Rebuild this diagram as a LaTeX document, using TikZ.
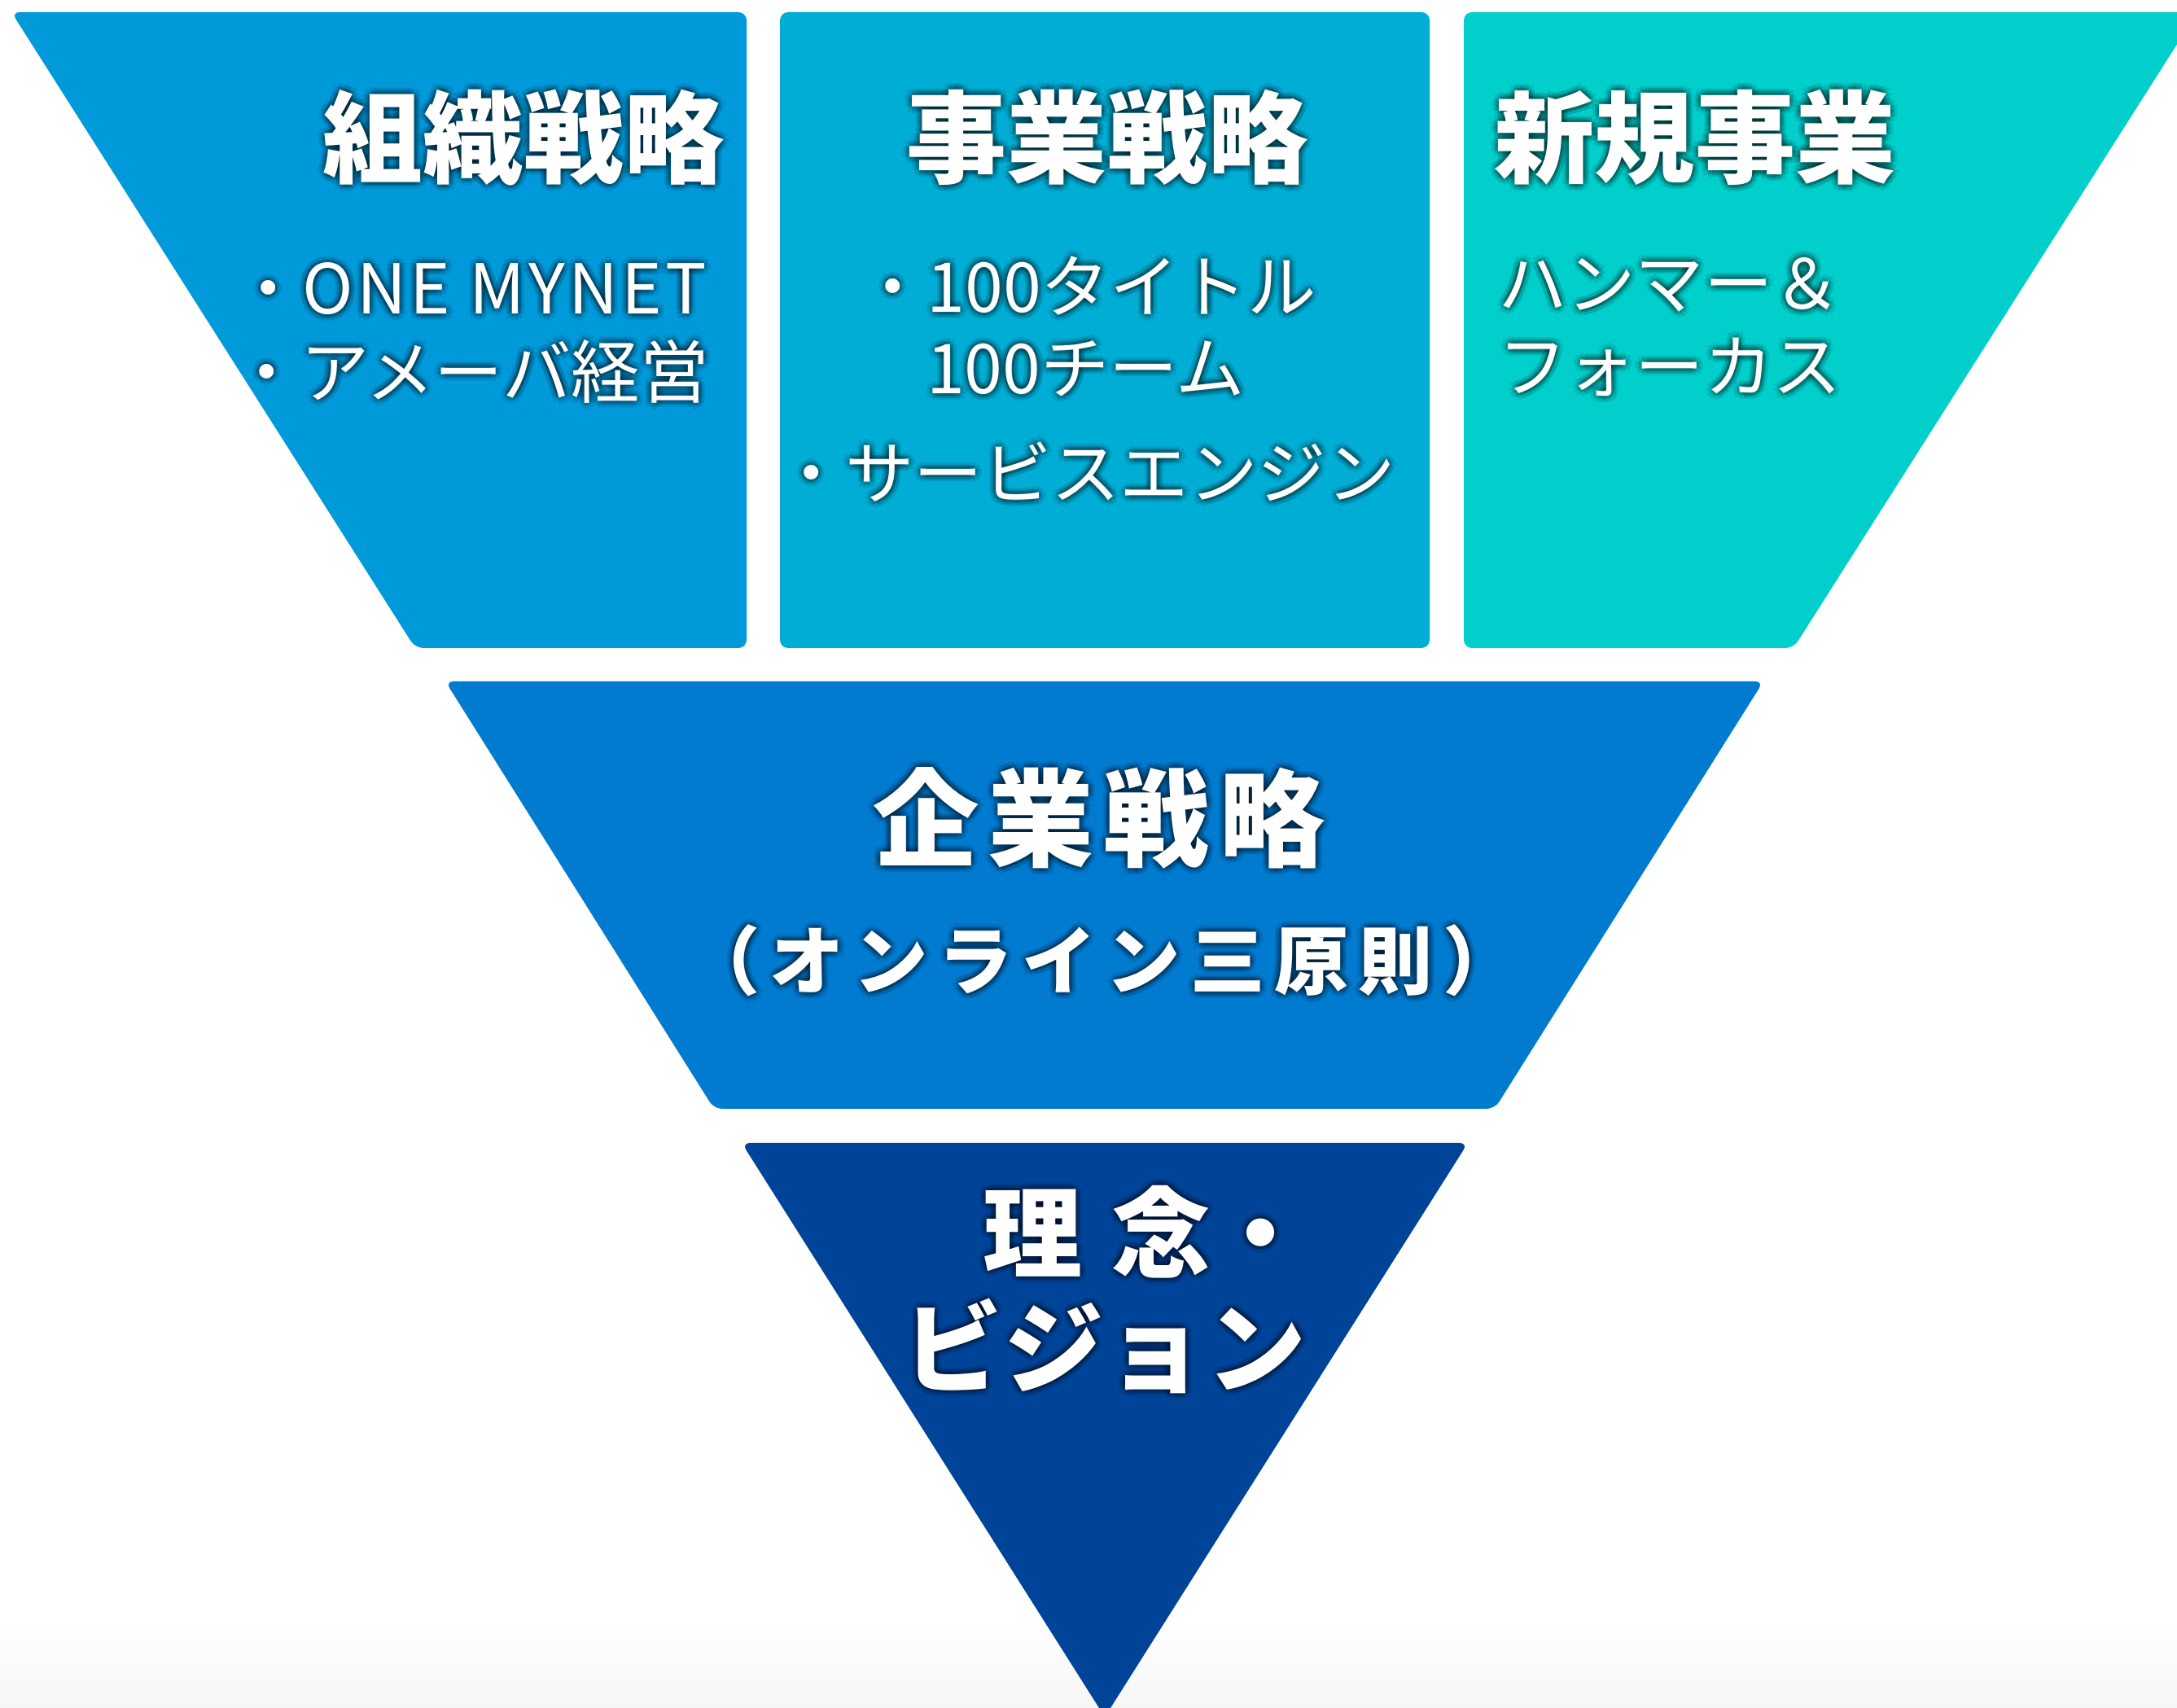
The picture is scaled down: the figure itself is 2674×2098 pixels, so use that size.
\documentclass[tikz,border=0pt]{standalone}
\usepackage{fontspec}
\setmainfont{Noto Sans CJK JP}
\usetikzlibrary{calc}
\definecolor{cOrg}{HTML}{0099DA}
\definecolor{cBiz}{HTML}{00ADD5}
\definecolor{cNew}{HTML}{00CFCC}
\definecolor{cCorp}{HTML}{007BD0}
\definecolor{cVis}{HTML}{004499}
\definecolor{cFloor}{HTML}{F6F6F6}
\tikzset{
  txt/.style={text=white, inner sep=0pt, outer sep=0pt},
  gl/.style={text=black, text opacity=0.09, inner sep=0pt, outer sep=0pt},
  ttl/.style={font=\bfseries\fontsize{35pt}{42pt}\selectfont},
  sub/.style={font=\fontsize{24pt}{29pt}\selectfont},
  corp/.style={font=\bfseries\fontsize{37pt}{44pt}\selectfont},
  corpsub/.style={font=\bfseries\fontsize{26pt}{31pt}\selectfont},
  vis/.style={font=\bfseries\fontsize{34.7pt}{42pt}\selectfont},
  panel/.style={rounded corners=0.1cm}
}
\newcommand\gtext[4]{%
  \foreach \ang in {0,45,...,315}{%
    \foreach \rr in {4,8}{%
      \node[gl,#3,name=#1-g-\ang-\rr] at ($(#2)+(\ang:\rr)$) {#4};
    }%
  }%
  \node[txt,#3] (#1) at (#2) {#4};
}
\begin{document}
\begin{tikzpicture}[x=0.01cm,y=-0.01cm]
\clip (0,0) rectangle (2674,2098);
\fill[white] (0,0) rectangle (2674,2098);
\shade[top color=white, bottom color=cFloor] (0,1990) rectangle (2674,2098);
% top row
\fill[cOrg,panel] (14,15) -- (917,15) -- (917,796) -- (510,796) -- cycle;
\fill[cBiz,panel] (958,15) -- (1756,15) -- (1756,796) -- (958,796) -- cycle;
\fill[cNew,panel] (1798,15) -- (2699,15) -- (2203,796) -- (1798,796) -- cycle;
% middle
\fill[cCorp,panel] (547,837) -- (2166,837) -- (1836,1362) -- (877,1362) -- cycle;
% bottom
\fill[cVis,panel] (911,1404) -- (1803,1404) -- (1357,2109) -- cycle;
% texts
\gtext{t1}{643,169}{ttl,anchor=center}{組織戦略}
\gtext{s1a}{287,355}{sub,anchor=west}{・{\addfontfeature{LetterSpace=5}ONE MYNET}}
\gtext{s1b}{285,456}{sub,anchor=west}{・アメーバ経営}
\gtext{t2}{1360,169}{ttl,anchor=center}{事業戦略}
\gtext{s2a}{1054,351}{sub,anchor=west}{・100タイトル}
\gtext{s2b}{1138,453}{sub,anchor=west}{100チーム}
\gtext{s2c}{954,580}{sub,anchor=west}{・サービスエンジン}
\gtext{t3}{2082,169}{ttl,anchor=center}{新規事業}
\gtext{s3a}{1840,350}{sub,anchor=west}{ハンマー＆}
\gtext{s3b}{1840,451}{sub,anchor=west}{フォーカス}
\gtext{t4}{1350,1005}{corp,anchor=center}{企\kern.09em 業\kern.09em 戦\kern.09em 略}
\gtext{s4}{1353,1180}{corpsub,anchor=center}{（\kern.13em オ\kern.13em ン\kern.13em ラ\kern.13em イ\kern.13em ン\kern.13em 三\kern.13em 原\kern.13em 則\kern.13em ）}
\gtext{t5a}{1207,1513}{vis,anchor=west}{理\kern.3em 念・}
\gtext{t5b}{1357,1653}{vis,anchor=center}{ビ\kern.02em ジ\kern.02em ョ\kern.02em ン}
\end{tikzpicture}
\end{document}
